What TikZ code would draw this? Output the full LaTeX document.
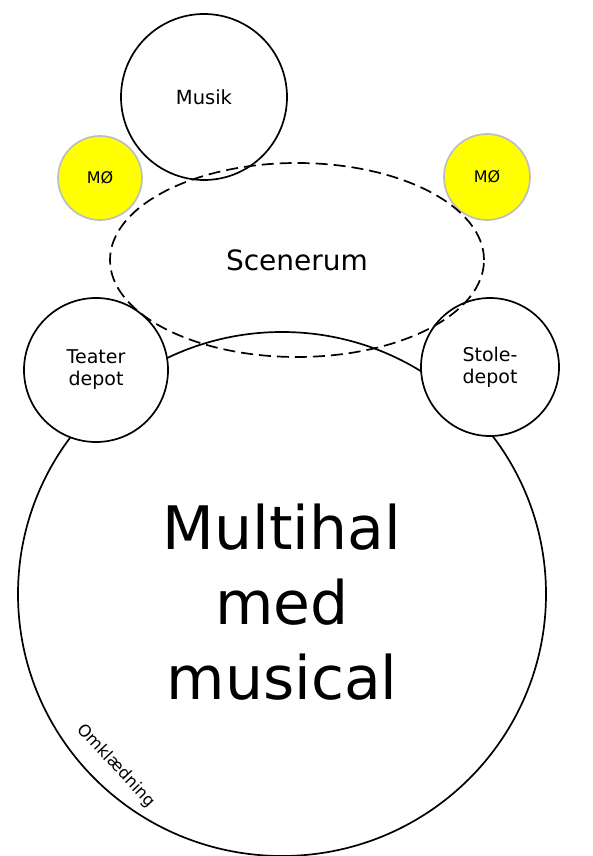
\documentclass[tikz,border=0pt]{standalone}
\usepackage{fontspec}
\setmainfont{DejaVu Sans}
\usetikzlibrary{shapes.geometric}
\definecolor{moyellow}{RGB}{255,255,0}
\definecolor{mogray}{RGB}{190,190,190}
\begin{document}
\begin{tikzpicture}[x=1pt,y=-1pt,
  ring/.style={circle,draw=black,line width=1.7pt,fill=white,inner sep=0pt,align=center},
  mo/.style={circle,draw=mogray,line width=1.7pt,fill=moyellow,inner sep=0pt,font=\fontsize{16}{18}\selectfont},
  lbl/.style={align=center,inner sep=0pt}
]
\useasboundingbox (0,0) rectangle (592,856);
% big hall
\node[ellipse,draw=black,line width=1.7pt,minimum width=528pt,minimum height=524pt,inner sep=0pt] (hal) at (282,594) {};
\node[lbl,font=\fontsize{60}{75}\selectfont] (haltxt) at (282,602) {Multihal\\med\\musical};
\node[lbl,font=\fontsize{16.5}{18}\selectfont,rotate=-47] (omk) at (116,766) {Omklædning};
% depots
\node[ring,minimum size=144pt,font=\fontsize{19}{22}\selectfont] (teater) at (96,370) {Teater\\depot};
\node[ring,minimum size=138pt,font=\fontsize{19}{22}\selectfont] (stole) at (490,367) {Stole-\\depot};
% music
\node[ring,minimum size=166pt,fill=none,font=\fontsize{19.5}{22}\selectfont] (musik) at (204,97) {Musik};
% MØ
\node[mo,minimum size=84pt] (mo1) at (100,178) {MØ};
\node[mo,minimum size=86pt] (mo2) at (487,177) {MØ};
% stage
\node[ellipse,draw=black,line width=1.7pt,dash pattern=on 12pt off 6pt,minimum width=374pt,minimum height=194pt,inner sep=0pt,font=\fontsize{28}{30}\selectfont] (scene) at (297,260) {Scenerum};
\end{tikzpicture}
\end{document}
